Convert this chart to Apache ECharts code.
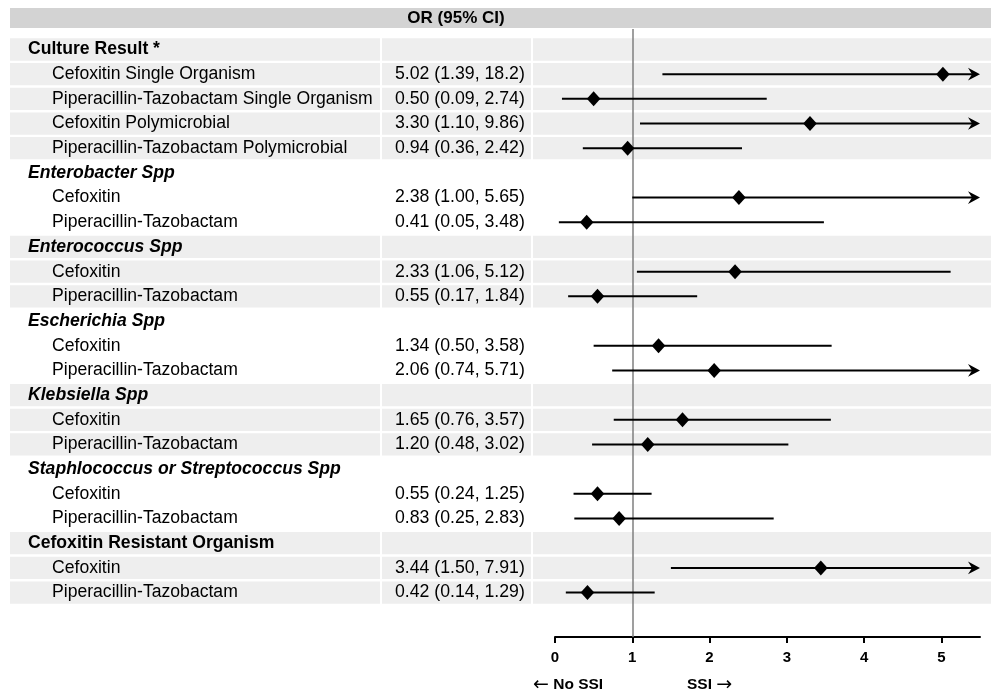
<!DOCTYPE html>
<html><head><meta charset="utf-8">
<script src="https://cdn.jsdelivr.net/npm/echarts@6/dist/echarts.min.js"></script>
<style>html,body{margin:0;padding:0;background:#fff}#c{width:991px;height:694px}</style>
</head><body><div id="c"></div><script>
// ---- data ----
const rowLabels = [
  'Culture Result *', 'Cefoxitin Single Organism', 'Piperacillin-Tazobactam Single Organism',
  'Cefoxitin Polymicrobial', 'Piperacillin-Tazobactam Polymicrobial',
  'Enterobacter Spp', 'Cefoxitin', 'Piperacillin-Tazobactam',
  'Enterococcus Spp', 'Cefoxitin', 'Piperacillin-Tazobactam',
  'Escherichia Spp', 'Cefoxitin', 'Piperacillin-Tazobactam',
  'Klebsiella Spp', 'Cefoxitin', 'Piperacillin-Tazobactam',
  'Staphlococcus or Streptococcus Spp', 'Cefoxitin', 'Piperacillin-Tazobactam',
  'Cefoxitin Resistant Organism', 'Cefoxitin', 'Piperacillin-Tazobactam'
];
// 'g' = group header, 'gi' = italic group header, 'i' = item
const rowKinds = ['g','i','i','i','i','gi','i','i','gi','i','i','gi','i','i','gi','i','i','gi','i','i','g','i','i'];
// shaded band per row (alternating groups)
const rowShaded = [1,1,1,1,1, 0,0,0, 1,1,1, 0,0,0, 1,1,1, 0,0,0, 1,1,1];
const orLabels = [
  '', '5.02 (1.39, 18.2)', '0.50 (0.09, 2.74)', '3.30 (1.10, 9.86)', '0.94 (0.36, 2.42)',
  '', '2.38 (1.00, 5.65)', '0.41 (0.05, 3.48)',
  '', '2.33 (1.06, 5.12)', '0.55 (0.17, 1.84)',
  '', '1.34 (0.50, 3.58)', '2.06 (0.74, 5.71)',
  '', '1.65 (0.76, 3.57)', '1.20 (0.48, 3.02)',
  '', '0.55 (0.24, 1.25)', '0.83 (0.25, 2.83)',
  '', '3.44 (1.50, 7.91)', '0.42 (0.14, 1.29)'
];
const orEst  = [null,5.02,0.50,3.30,0.94, null,2.38,0.41, null,2.33,0.55, null,1.34,2.06, null,1.65,1.20, null,0.55,0.83, null,3.44,0.42];
const orLow  = [null,1.39,0.09,1.10,0.36, null,1.00,0.05, null,1.06,0.17, null,0.50,0.74, null,0.76,0.48, null,0.24,0.25, null,1.50,0.14];
const orHigh = [null,18.2,2.74,9.86,2.42, null,5.65,3.48, null,5.12,1.84, null,3.58,5.71, null,3.57,3.02, null,1.25,2.83, null,7.91,1.29];
const xTicks = [0,1,2,3,4,5];
const xMax = 5.5;
const headerText = 'OR (95% CI)';
const leftNote = ['\u2190', ' No SSI'];
const rightNote = ['SSI ', '\u2192'];

// ---- chart ----
const FONT = '"Liberation Sans", Arial, sans-serif';
const chart = echarts.init(document.getElementById('c'), null, {renderer: 'canvas'});

const rowData = rowLabels.map((_, i) => [0, i]);
const ciData = [];
orEst.forEach((v, i) => { if (v !== null) ciData.push([v, i, orLow[i], orHigh[i]]); });

const yCommon = {type: 'value', inverse: true, min: -0.83, max: 23.8, show: false};
const noteRich = {
  a: {fontFamily: '"DejaVu Sans"', fontSize: 19, color: '#000', verticalAlign: 'middle'},
  t: {fontFamily: FONT, fontSize: 15.5, fontWeight: 'bold', color: '#000', verticalAlign: 'middle'}
};

chart.setOption({
  animation: false,
  grid: [
    {left: 10, right: 0, top: 29, height: 608},
    {left: 555, width: 425, top: 29, height: 608}
  ],
  xAxis: [
    {gridIndex: 0, type: 'value', min: 0, max: 1, show: false},
    {gridIndex: 1, type: 'value', min: 0, max: xMax, interval: 1,
     axisLine: {show: true, onZero: false, lineStyle: {color: '#000', width: 2}},
     axisTick: {show: true, length: 6, customValues: xTicks, lineStyle: {color: '#000', width: 2}},
     axisLabel: {customValues: xTicks, color: '#000', fontWeight: 'bold', fontSize: 15, fontFamily: FONT, margin: 13},
     splitLine: {show: false}}
  ],
  yAxis: [
    Object.assign({gridIndex: 0}, yCommon),
    Object.assign({gridIndex: 1}, yCommon)
  ],
  graphic: [
    {type: 'rect', left: 10, top: 8, shape: {width: 981, height: 20}, style: {fill: '#d3d3d3'}, z: 0},
    {type: 'text', x: 456, y: 18, style: {text: headerText, fill: '#000', font: 'bold 17px ' + FONT, align: 'center', verticalAlign: 'middle'}, z: 1},
    {type: 'text', x: 533, y: 685, style: {text: '{a|' + leftNote[0] + '}{t|' + leftNote[1] + '}', rich: noteRich, align: 'left', verticalAlign: 'middle'}, z: 1},
    {type: 'text', x: 687, y: 685, style: {text: '{t|' + rightNote[0] + '}{a|' + rightNote[1] + '}', rich: noteRich, align: 'left', verticalAlign: 'middle'}, z: 1}
  ],
  series: [
    {
      type: 'custom', xAxisIndex: 0, yAxisIndex: 0, z: 1, silent: true,
      data: rowData,
      encode: {x: 0, y: 1},
      renderItem: function (params, api) {
        const i = api.value(1);
        const cs = params.coordSys;
        const yc = api.coord([0, i])[1];
        const yTop = api.coord([0, i - 0.5])[1];
        const yBot = api.coord([0, i + 0.5])[1];
        const children = [];
        if (rowShaded[i]) {
          children.push({type: 'rect', shape: {x: cs.x, y: yTop + 1.2, width: cs.width, height: yBot - yTop - 2.4}, style: {fill: '#eeeeee'}});
          children.push({type: 'rect', shape: {x: cs.x + 370, y: yTop, width: 2, height: yBot - yTop}, style: {fill: '#ffffff'}});
          children.push({type: 'rect', shape: {x: cs.x + 521, y: yTop, width: 2, height: yBot - yTop}, style: {fill: '#ffffff'}});
        }
        const kind = rowKinds[i];
        const isGroup = kind !== 'i';
        children.push({type: 'text', style: {
          text: rowLabels[i], x: cs.x + (isGroup ? 18 : 42), y: yc,
          fill: '#000', font: (kind === 'gi' ? 'italic ' : '') + (isGroup ? 'bold ' : '') + '17.6px ' + FONT,
          align: 'left', verticalAlign: 'middle'}});
        if (orLabels[i]) {
          children.push({type: 'text', style: {
            text: orLabels[i], x: cs.x + 385, y: yc, fill: '#000', font: '17.7px ' + FONT,
            align: 'left', verticalAlign: 'middle'}});
        }
        return {type: 'group', children: children};
      }
    },
    {
      type: 'custom', xAxisIndex: 1, yAxisIndex: 1, z: 5, silent: true,
      data: ciData,
      encode: {x: [0, 2, 3], y: 1},
      renderItem: function (params, api) {
        const est = api.value(0), i = api.value(1), lo = api.value(2), hi = api.value(3);
        const p0 = api.coord([lo, i]);
        const p1 = api.coord([Math.min(hi, xMax), i]);
        const pe = api.coord([est, i]);
        const children = [];
        const arrow = hi > xMax;
        children.push({type: 'line', shape: {x1: p0[0], y1: p0[1], x2: arrow ? p1[0] - 4 : p1[0], y2: p1[1]}, style: {stroke: '#000', lineWidth: 2}});
        if (arrow) {
          const x = p1[0], y = p1[1];
          children.push({type: 'polygon', shape: {points: [[x, y], [x - 12, y - 6.3], [x - 8, y], [x - 12, y + 6.3]]}, style: {fill: '#000'}});
        }
        children.push({type: 'polygon', shape: {points: [[pe[0], pe[1] - 7.5], [pe[0] + 6.8, pe[1]], [pe[0], pe[1] + 7.5], [pe[0] - 6.8, pe[1]]]}, style: {fill: '#000'}});
        return {type: 'group', children: children};
      },
      markLine: {
        silent: true, symbol: ['none', 'none'], animation: false,
        label: {show: false},
        lineStyle: {color: '#7f7f7f', width: 1.5, type: 'solid'},
        data: [{xAxis: 1}]
      }
    }
  ]
});
</script></body></html>
